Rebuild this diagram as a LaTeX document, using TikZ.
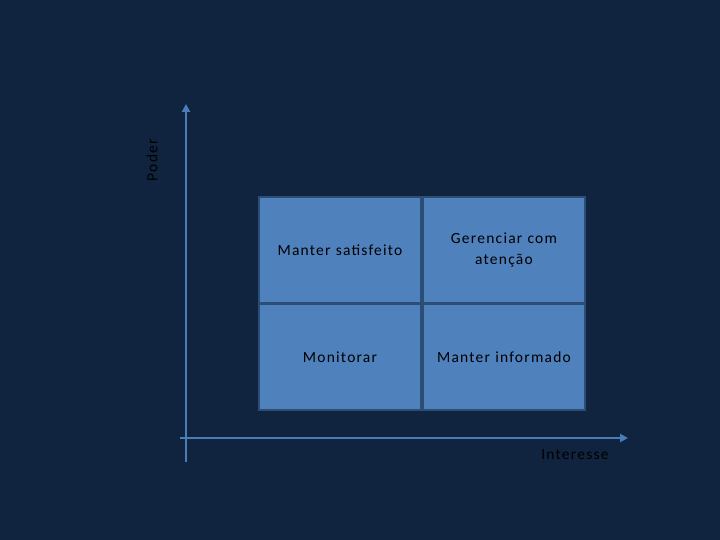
\documentclass[tikz,border=0pt]{standalone}
\usepackage{fontspec}
\setmainfont{Carlito}[LetterSpace=8]
\usetikzlibrary{arrows.meta}
\definecolor{bg}{HTML}{11243F}
\definecolor{cellc}{HTML}{4F81BD}
\definecolor{cellb}{HTML}{2C4D75}
\definecolor{axisc}{HTML}{4A7EBB}
\tikzset{cell/.style={draw=cellb,line width=2pt,fill=cellc,minimum width=162pt,minimum height=106pt,align=center,font=\fontsize{15.5pt}{21pt}\selectfont,text width=150pt},
axis/.style={draw=axisc,line width=2.5pt,-{Triangle[length=8pt,width=8pt]}},
lbl/.style={font=\fontsize{15.5pt}{18pt}\selectfont,text=black}}
\begin{document}
\begin{tikzpicture}[x=1pt,y=-1pt]
\fill[bg] (0,0) rectangle (720,540);
\useasboundingbox (0,0) rectangle (720,540);
\node[cell] (a) at (340,250) {Manter satisfeito};
\node[cell] (b) at (504,250) {Gerenciar com\\aten\c{c}\~ao};
\node[cell] (c) at (340,357) {Monitorar};
\node[cell] (d) at (504,357) {Manter informado};
\coordinate (v0) at (186,462);
\coordinate (v1) at (186,104);
\coordinate (h0) at (180,438);
\coordinate (h1) at (628,438);
\draw[axis] (v0) -- (v1);
\draw[axis] (h0) -- (h1);
\node[lbl,rotate=90] (p) at (152,160) {Poder};
\node[lbl] (i) at (575,455) {Interesse};
\end{tikzpicture}
\end{document}
